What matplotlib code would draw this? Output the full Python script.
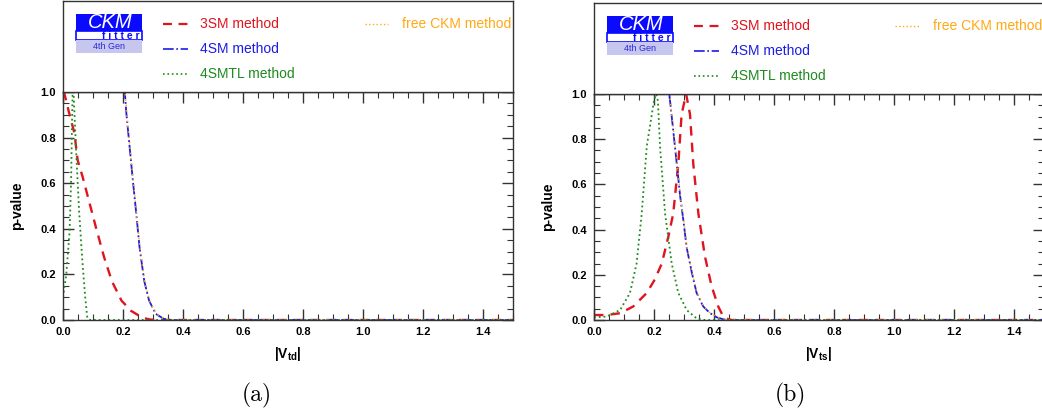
import numpy as np
import matplotlib.pyplot as plt
from matplotlib.patches import Rectangle
from matplotlib.ticker import MultipleLocator

plt.rcParams['font.family'] = ['Liberation Sans', 'DejaVu Sans']
plt.rcParams['mathtext.fontset'] = 'custom'
plt.rcParams['mathtext.rm'] = 'Liberation Sans'
plt.rcParams['mathtext.bf'] = 'Liberation Sans:bold'

# ---- panel (a): |Vtd| ----
x3_a = [0.0, 0.003, 0.011, 0.02, 0.038, 0.049, 0.065, 0.087, 0.109, 0.136, 0.163, 0.195, 0.227, 0.265, 0.29, 0.32, 1.5]
p3_a = [1.0, 1.0, 0.96, 0.91, 0.82, 0.70, 0.63, 0.52, 0.41, 0.28, 0.17, 0.085, 0.04, 0.01, 0.002, 0.0, 0.0]

x4_a = [0.0, 0.206, 0.211, 0.222, 0.233, 0.244, 0.255, 0.271, 0.287, 0.309, 0.336, 0.36, 1.5]
p4_a = [1.0, 1.0, 0.91, 0.76, 0.61, 0.47, 0.32, 0.17, 0.085, 0.027, 0.005, 0.0, 0.0]

xtl_a = [0.0, 0.011, 0.022, 0.027, 0.03, 0.032, 0.035, 0.043, 0.054, 0.065, 0.074, 0.081, 0.09, 1.5]
ptl_a = [0.1, 0.2, 0.39, 0.61, 0.86, 1.0, 1.0, 0.76, 0.47, 0.25, 0.1, 0.01, 0.0, 0.0]

xfr_a = [0.0, 0.207, 0.212, 0.223, 0.234, 0.245, 0.256, 0.272, 0.288, 0.31, 0.337, 0.362, 1.5]
pfr_a = [1.0, 1.0, 0.91, 0.76, 0.61, 0.47, 0.32, 0.17, 0.085, 0.027, 0.005, 0.0, 0.0]

# ---- panel (b): |Vts| ----
x3_b = [0.0, 0.042, 0.087, 0.131, 0.176, 0.203, 0.226, 0.248, 0.264, 0.281, 0.292, 0.307,
        0.32, 0.331, 0.348, 0.37, 0.392, 0.414, 0.431, 0.448, 0.46, 1.5]
p3_b = [0.022, 0.022, 0.03, 0.06, 0.12, 0.18, 0.25, 0.37, 0.47, 0.69, 0.91, 1.0,
        0.91, 0.69, 0.47, 0.28, 0.15, 0.06, 0.015, 0.003, 0.0, 0.0]

x4_b = [0.0, 0.251, 0.264, 0.276, 0.287, 0.298, 0.309, 0.326, 0.342, 0.364, 0.387, 0.409, 0.431, 0.45, 1.5]
p4_b = [1.0, 1.0, 0.84, 0.69, 0.55, 0.44, 0.32, 0.21, 0.12, 0.06, 0.03, 0.012, 0.003, 0.0, 0.0]

xtl_b = [0.0, 0.042, 0.087, 0.12, 0.142, 0.159, 0.176, 0.2, 0.207, 0.213, 0.22, 0.237,
         0.259, 0.281, 0.309, 0.342, 0.37, 1.5]
ptl_b = [0.012, 0.015, 0.044, 0.12, 0.25, 0.47, 0.77, 0.97, 1.0, 0.97, 0.77, 0.47,
         0.25, 0.12, 0.044, 0.007, 0.0, 0.0]

xfr_b = [0.0, 0.252, 0.265, 0.277, 0.288, 0.299, 0.31, 0.327, 0.343, 0.365, 0.388, 0.41, 0.432, 0.452, 1.5]
pfr_b = [1.0, 1.0, 0.84, 0.69, 0.55, 0.44, 0.32, 0.21, 0.12, 0.06, 0.03, 0.012, 0.003, 0.0, 0.0]

labels = ['3SM method', '4SM method', '4SMTL method', 'free CKM method']
c_red = '#e0141e'
c_blue = '#1c1ce8'
c_green = '#1f8a1f'
c_orange = '#ffa914'

W, H = 1042, 415
fig = plt.figure(figsize=(W / 100, H / 100), dpi=100)


def px(x0, y0, x1, y1):
    return [x0 / W, 1 - y1 / H, (x1 - x0) / W, (y1 - y0) / H]


def draw_logo(lg):
    t = lg.transAxes
    x0, x1 = 0.029, 0.175
    lg.add_patch(Rectangle((x0, 0.670), x1 - x0, 0.187, transform=t, color='#0a0aff', lw=0))
    lg.add_patch(Rectangle((x0, 0.571), x1 - x0, 0.099, transform=t, fc='white', ec='#0a0aff', lw=1.2))
    lg.add_patch(Rectangle((x0, 0.429), x1 - x0, 0.142, transform=t, color='#c6c6ee', lw=0))
    lg.text((x0 + x1) / 2 + 0.004, 0.762, 'CKM', transform=t, color='white', style='italic',
            fontsize=14.5, ha='center', va='center')
    lg.text(x1 - 0.004, 0.616, 'f i t t e r', transform=t, color='#0a0aff', fontweight='bold',
            fontsize=7.5, ha='right', va='center')
    lg.text((x0 + x1) / 2, 0.497, '4th Gen', transform=t, color='#2a2ad8',
            fontsize=6.5, ha='center', va='center')


def legend_entries(lg):
    t = lg.transAxes
    rows = [(0.222, 0.277, 0.304, 0.747, c_red, dict(ls=(0, (4, 3)), lw=1.6)),
            (0.222, 0.277, 0.304, 0.473, c_blue, dict(ls='-.', lw=1.2)),
            (0.222, 0.277, 0.304, 0.198, c_green, dict(ls=':', lw=1.2)),
            (0.670, 0.723, 0.754, 0.747, c_orange, dict(ls=':', lw=1.0))]
    for (xa, xb, xt, yy, col, st), lab in zip(rows, labels):
        lg.plot([xa, xb], [yy, yy], transform=t, color=col, **st)
        lg.text(xt, yy, lab, transform=t, color=col, fontsize=10, va='center')


def panel(x_left, top, legtop, data, xlab, tag, tagx):
    ax = fig.add_axes(px(x_left, top, x_left + 450, 320))
    lg = fig.add_axes(px(x_left, legtop, x_left + 450, top))
    lg.set_xlim(0, 1)
    lg.set_ylim(0, 1)
    lg.set_xticks([])
    lg.set_yticks([])
    for s in lg.spines.values():
        s.set_color('#333333')
        s.set_linewidth(1.0)
    draw_logo(lg)
    legend_entries(lg)

    (x3, p3), (x4, p4), (xtl, ptl), (xfr, pfr) = data
    ax.plot(x3, p3, color=c_red, ls=(0, (4, 3)), lw=1.7)
    ax.plot(x4, p4, color=c_blue, ls='-.', lw=1.3)
    ax.plot(xfr, pfr, color=c_orange, ls=(0, (1, 2.5)), lw=1.1)
    ax.plot(xtl, ptl, color=c_green, ls=':', lw=1.3)

    ax.set_xlim(0, 1.5)
    ax.set_ylim(0, 1.0)
    ax.xaxis.set_major_locator(MultipleLocator(0.2))
    ax.xaxis.set_minor_locator(MultipleLocator(0.05))
    ax.yaxis.set_major_locator(MultipleLocator(0.2))
    ax.yaxis.set_minor_locator(MultipleLocator(0.05))
    ax.tick_params(which='both', direction='in', top=True, right=True, colors='#333333')
    ax.tick_params(which='major', length=8, width=1.0, labelsize=8, labelcolor='black', pad=5)
    ax.tick_params(which='minor', length=4, width=0.8)
    ax.set_xticks([0.0, 0.2, 0.4, 0.6, 0.8, 1.0, 1.2, 1.4])
    ax.set_xticklabels(['0.0', '0.2', '0.4', '0.6', '0.8', '1.0', '1.2', '1.4'], fontweight='bold')
    ax.set_yticks([0.0, 0.2, 0.4, 0.6, 0.8, 1.0])
    ax.set_yticklabels(['0.0', '0.2', '0.4', '0.6', '0.8', '1.0'], fontweight='bold')
    for s in ax.spines.values():
        s.set_color('#333333')
        s.set_linewidth(1.0)
    ax.set_xlabel(xlab, fontsize=10, labelpad=6)
    ax.set_ylabel('p-value', fontsize=10, fontweight='bold', labelpad=12)
    fig.text(tagx / W, 1 - 395 / H, tag, family='cmr10', fontsize=17, ha='center', va='center')
    return ax


panel(63, 92, 1, [(x3_a, p3_a), (x4_a, p4_a), (xtl_a, ptl_a), (xfr_a, pfr_a)],
      r'$\mathbf{|V_{td}|}$', '(a)', 257)
panel(594, 94, 3, [(x3_b, p3_b), (x4_b, p4_b), (xtl_b, ptl_b), (xfr_b, pfr_b)],
      r'$\mathbf{|V_{ts}|}$', '(b)', 790)

fig.savefig('out.png', dpi=100)
